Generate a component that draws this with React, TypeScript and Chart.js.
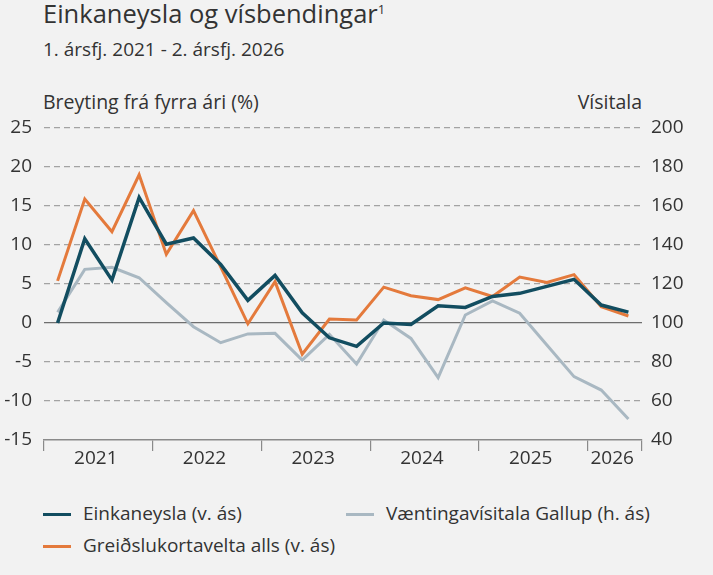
import React, { useEffect, useRef } from "react";
import { Chart, registerables } from "chart.js";

Chart.register(...registerables);

const quarters = [
  "2021Q1", "2021Q2", "2021Q3", "2021Q4",
  "2022Q1", "2022Q2", "2022Q3", "2022Q4",
  "2023Q1", "2023Q2", "2023Q3", "2023Q4",
  "2024Q1", "2024Q2", "2024Q3", "2024Q4",
  "2025Q1", "2025Q2", "2025Q3", "2025Q4",
  "2026Q1", "2026Q2",
];

const einkaneysla = [
  0.0, 10.8, 5.5, 16.1, 10.1, 10.9, 7.5, 2.9, 6.1, 1.3, -1.9, -3.0,
  0.0, -0.2, 2.2, 2.0, 3.4, 3.8, 4.7, 5.6, 2.3, 1.4,
];

const greidslukort = [
  5.4, 15.9, 11.7, 19.0, 8.8, 14.4, 7.2, -0.1, 5.3, -4.0, 0.5, 0.4,
  4.6, 3.5, 3.0, 4.5, 3.4, 5.9, 5.2, 6.2, 2.1, 0.9,
];

const vaentingavisitala = [
  105.5, 127.5, 128.6, 123.2, 110.4, 98.1, 89.9, 94.4, 94.7, 81.0, 94.2, 79.0,
  101.5, 92.1, 72.0, 104.1, 111.3, 105.0, 88.7, 72.5, 65.6, 50.8,
];

const leftTicks = { min: -15, max: 25, step: 5 };
const rightTicks = { min: 40, max: 200, step: 20 };

const seriesNames = [
  "Einkaneysla (v. ás)",
  "Greiðslukortavelta alls (v. ás)",
  "Væntingavísitala Gallup (h. ás)",
];

const COLORS = {
  dark: "#124d60",
  orange: "#e47a3c",
  grey: "#a9b8c2",
  text: "#333333",
  grid: "#a3a3a3",
  axis: "#8a8a8a",
  zero: "#6e6e6e",
  bg: "#f2f2f2",
};

const FONT = "'Open Sans', 'Noto Sans', sans-serif";

function yearOf(q: string) {
  return q.slice(0, 4);
}

export default function App() {
  const canvasRef = useRef<HTMLCanvasElement | null>(null);

  useEffect(() => {
    document.body.style.margin = "0";
    const ctx = canvasRef.current;
    if (!ctx) return;

    const chart = new Chart(ctx, {
      type: "line",
      data: {
        labels: quarters,
        datasets: [
          {
            label: seriesNames[0],
            data: einkaneysla,
            borderColor: COLORS.dark,
            backgroundColor: COLORS.dark,
            borderWidth: 3.5,
            pointRadius: 0,
            tension: 0,
            yAxisID: "y",
          },
          {
            label: seriesNames[1],
            data: greidslukort,
            borderColor: COLORS.orange,
            backgroundColor: COLORS.orange,
            borderWidth: 3,
            pointRadius: 0,
            tension: 0,
            yAxisID: "y",
          },
          {
            label: seriesNames[2],
            data: vaentingavisitala,
            borderColor: COLORS.grey,
            backgroundColor: COLORS.grey,
            borderWidth: 3,
            pointRadius: 0,
            tension: 0,
            yAxisID: "y1",
          },
        ],
      },
      options: {
        animation: false,
        responsive: true,
        maintainAspectRatio: false,
        layout: { padding: { top: 128, left: 0, right: 0, bottom: 0 } },
        plugins: {
          legend: { display: false },
          tooltip: { enabled: false },
          title: { display: false },
        },
        scales: {
          x: {
            type: "category",
            offset: true,
            afterFit: (scale: any) => {
              scale.height = 40;
            },
            grid: {
              offset: true,
              drawOnChartArea: false,
              drawTicks: true,
              tickLength: 11,
              lineWidth: 1.2,
              color: (c: any) => {
                const i = c.index;
                if (i === undefined) return COLORS.axis;
                if (i === 0) return COLORS.axis;
                return yearOf(quarters[i]) !== yearOf(quarters[i - 1])
                  ? COLORS.axis
                  : "rgba(0,0,0,0)";
              },
            },
            border: { display: true, color: COLORS.axis, width: 1.5 },
            ticks: {
              autoSkip: false,
              maxRotation: 0,
              minRotation: 0,
              padding: -2,
              labelOffset: 11,
              color: COLORS.text,
              font: { family: FONT, size: 19, lineHeight: 1 },
              callback: (_v: any, i: number) => {
                const y = yearOf(quarters[i]);
                const idx = quarters
                  .map((q, k) => (yearOf(q) === y ? k : -1))
                  .filter((k) => k >= 0);
                const mid = Math.floor((idx[0] + idx[idx.length - 1]) / 2);
                return i === mid ? y : "";
              },
            },
          },
          y: {
            type: "linear",
            position: "left",
            min: leftTicks.min,
            max: leftTicks.max,
            afterFit: (scale: any) => {
              scale.width = 44;
            },
            ticks: {
              stepSize: leftTicks.step,
              padding: 12,
              color: COLORS.text,
              font: { family: FONT, size: 19 },
            },
            grid: {
              drawTicks: false,
              lineWidth: 1.2,
              color: (c: any) => {
                const v = c.tick ? c.tick.value : null;
                if (v === 0 || v === leftTicks.min) return "rgba(0,0,0,0)";
                return COLORS.grid;
              },
            },
            border: { display: false, dash: [6, 4] },
          },
          y1: {
            type: "linear",
            position: "right",
            min: rightTicks.min,
            max: rightTicks.max,
            afterFit: (scale: any) => {
              scale.width = 71;
            },
            ticks: {
              stepSize: rightTicks.step,
              padding: 9,
              color: COLORS.text,
              font: { family: FONT, size: 19 },
            },
            grid: {
              drawTicks: false,
              lineWidth: 1.2,
              color: (c: any) => {
                const v = c.tick ? c.tick.value : null;
                return v === 100 ? COLORS.zero : "rgba(0,0,0,0)";
              },
            },
            border: { display: false },
          },
        },
      },
    });

    return () => {
      chart.destroy();
    };
  }, []);

  const textBase: React.CSSProperties = {
    position: "absolute",
    fontFamily: FONT,
    color: COLORS.text,
    lineHeight: 1,
    whiteSpace: "nowrap",
  };

  const legendItem = (name: string, color: string, left: number, top: number) => (
    <div style={{ position: "absolute", left, top, height: 20 }} key={name}>
      <div
        style={{
          position: "absolute",
          left: 0,
          top: 9,
          width: 28,
          height: 3,
          background: color,
        }}
      />
      <div style={{ ...textBase, left: 40, top: 0, fontSize: 19 }}>{name}</div>
    </div>
  );

  return (
    <div
      style={{
        position: "relative",
        width: 713,
        height: 575,
        background: COLORS.bg,
        overflow: "hidden",
      }}
    >
      <div style={{ ...textBase, left: 43, top: 1, fontSize: 25.5 }}>
        Einkaneysla og vísbendingar
        <sup style={{ fontSize: 13, verticalAlign: "top", position: "relative", top: 2 }}>1</sup>
      </div>
      <div style={{ ...textBase, left: 43, top: 40, fontSize: 19 }}>
        1. ársfj. 2021 - 2. ársfj. 2026
      </div>
      <div style={{ ...textBase, left: 43, top: 92, fontSize: 19.5 }}>
        Breyting frá fyrra ári (%)
      </div>
      <div style={{ ...textBase, right: 713 - 642, top: 92, fontSize: 19.5 }}>Vísitala</div>

      <div style={{ position: "absolute", left: 0, top: 0, width: 713, height: 480 }}>
        <canvas ref={canvasRef} />
      </div>

      {legendItem(seriesNames[0], COLORS.dark, 43, 504)}
      {legendItem(seriesNames[2], COLORS.grey, 346, 504)}
      {legendItem(seriesNames[1], COLORS.orange, 43, 536)}
    </div>
  );
}
